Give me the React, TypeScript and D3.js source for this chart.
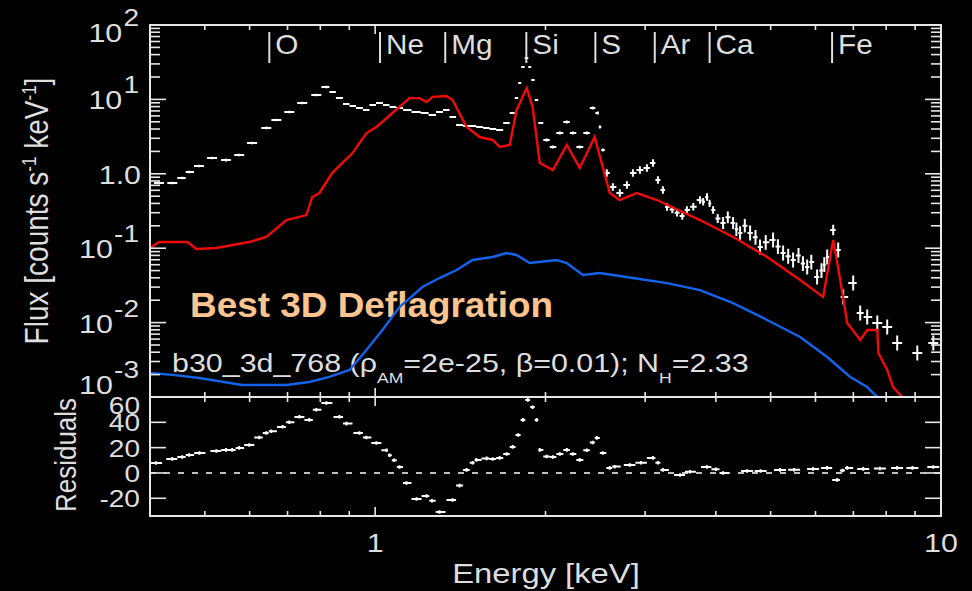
import React from 'react';
import * as d3 from 'd3';

// ---------- data ----------
const dataE = [0.415,0.438,0.456,0.469,0.488,0.515,0.545,0.575,0.606,0.642,0.669,0.705,0.743,0.787,0.820,
  0.840,0.865,0.890,0.912,0.938,0.965,0.989,1.018,1.047,1.073,1.104,1.136,1.183,1.223,1.263,1.299,1.337,1.370,1.410,1.451,1.487,1.530,1.574,1.613,1.660,1.708,1.750,1.779,1.801,1.823,1.853,1.876,1.898,1.930,1.954,
  2.010,2.060,2.120,2.181,2.235,2.299,2.366,2.425,2.475,2.495,2.525,
  2.567,2.630,2.706,2.785,2.854,2.937,3.022,3.097,3.160,3.225,3.279,3.35,3.415,3.49,3.556,3.65,3.750,3.80,3.859,3.90,3.955,4.03,
  4.120,4.20,4.291,4.35,4.415,4.50,4.599,4.70,4.788,4.90,5.049,5.15,5.259,5.37,5.479,5.60,5.70,5.801,5.90,6.040,6.15,6.22,
  6.293,6.449,6.581,6.717,6.997,7.198,7.406,7.717,8.035,8.368,9.081,9.692];
const dataF = [0.752,0.752,0.878,1.057,1.273,1.631,1.532,1.789,2.594,4.128,5.286,6.769,8.946,11.46,14.68,
  12.58,10.44,8.674,8.153,7.661,7.203,8.409,8.946,8.409,7.904,7.661,7.203,6.769,6.565,6.171,6.769,7.203,5.799,4.530,4.390,4.390,4.256,4.128,4.001,3.879,4.818,6.565,10.44,16.61,27.26,36.02,27.26,18.23,9.815,4.818,
  2.846,2.292,3.535,4.968,3.535,2.292,3.535,7.661,6.565,4.256,2.089,
  1.025,0.665,0.552,0.707,1.025,1.125,1.197,1.397,0.825,0.606,0.358,0.33,0.30,0.27,0.326,0.36,0.444,0.42,0.488,0.40,0.326,0.25,
  0.218,0.26,0.218,0.18,0.160,0.20,0.160,0.14,0.1038,0.12,0.129,0.105,0.0862,0.078,0.0694,0.08,0.062,0.0559,0.065,0.0410,0.05,0.06,
  0.0762,0.1757,0.0946,0.0221,0.0340,0.01346,0.01189,0.00988,0.00873,0.00532,0.00390,0.00532];
const dataErr = [0.018,0.018,0.018,0.018,0.018,0.018,0.018,0.018,0.018,0.018,0.018,0.018,0.018,0.018,0.018,
  0.015,0.015,0.015,0.015,0.015,0.015,0.015,0.015,0.015,0.015,0.015,0.015,0.015,0.015,0.015,0.015,0.015,0.015,0.015,0.015,0.015,0.015,0.015,0.015,0.015,0.015,0.015,0.015,0.015,0.015,0.015,0.015,0.015,0.015,0.015,
  0.02,0.02,0.02,0.02,0.02,0.02,0.02,0.02,0.02,0.02,0.02,
  0.05,0.05,0.05,0.05,0.05,0.05,0.05,0.05,0.05,0.05,0.05,0.05,0.05,0.05,0.05,0.05,0.05,0.05,0.05,0.05,0.05,0.06,
  0.08,0.08,0.08,0.09,0.09,0.09,0.1,0.1,0.1,0.1,0.1,0.1,0.1,0.1,0.1,0.1,0.1,0.1,0.1,0.1,0.1,0.1,
  0.1,0.07,0.1,0.1,0.1,0.1,0.1,0.1,0.1,0.1,0.1,0.1];

const redE = [0.4,0.415,0.466,0.483,0.524,0.599,0.642,0.697,0.756,0.774,0.797,0.840,0.912,0.965,1.005,1.073,1.150,1.197,1.233,1.263,1.337,1.370,1.451,1.530,1.613,1.660,1.729,1.778,1.853,1.898,1.954,2.061,2.181,2.299,2.443,2.525,2.598,2.706,2.901,3.147,3.75,4.291,4.928,5.636,6.19,6.37,6.449,6.636,6.827,7.198,7.406,7.716,7.75,8.035,8.229,8.537];
const redF = [0.1006,0.121,0.121,0.0976,0.1006,0.121,0.1415,0.239,0.279,0.488,0.552,1.03,1.90,3.53,4.26,6.57,10.4,10.4,9.2,10.8,11.1,9.8,4.26,3.12,2.85,2.29,2.44,7.2,14.2,7.9,1.40,1.12,2.44,1.20,3.12,1.23,0.552,0.444,0.552,0.444,0.239,0.1415,0.0762,0.0374,0.0221,0.0762,0.129,0.0374,0.00988,0.00583,0.00796,0.00796,0.0039,0.00231,0.00136,0.001];

const blueE = [0.4,0.438,0.489,0.582,0.697,0.765,0.830,0.901,0.965,1.030,1.104,1.212,1.299,1.393,1.486,1.613,1.708,1.778,1.875,2.094,2.181,2.328,2.494,2.854,3.28,3.75,4.291,4.928,5.636,6.292,6.911,7.406,7.653,7.73];
const blueF = [0.0021,0.00198,0.0018,0.00145,0.00145,0.00159,0.00186,0.00231,0.00428,0.00796,0.0162,0.0301,0.0397,0.0509,0.0694,0.0762,0.0861,0.081,0.0632,0.0694,0.0632,0.0436,0.0464,0.0397,0.0340,0.0274,0.0183,0.01084,0.0064,0.00345,0.00186,0.00136,0.00106,0.001];

const resE = [0.41,0.438,0.456,0.469,0.489,0.524,0.545,0.559,0.575,0.599,0.624,0.642,0.655,0.686,0.705,0.735,0.765,0.787,0.820,0.865,0.89,0.938,0.965,1.005,1.047,1.06,1.08,1.104,1.136,1.183,1.233,1.26,1.299,1.370,1.41,1.451,1.487,1.510,1.574,1.613,1.660,1.708,1.750,1.79,1.824,1.861,1.898,1.930,1.954,2.010,2.061,2.12,2.181,2.235,2.299,2.366,2.425,2.464,2.525,2.598,2.65,2.818,2.95,3.096,3.16,3.225,3.458,3.6,3.859,4.0,4.120,4.543,4.8,5.195,5.5,5.943,6.292,6.555,6.7,6.827,7.286,7.8,8.365,8.9,9.69];
const resV = [7.9,11.1,12.6,14.2,15.8,17.4,18.2,18.2,19.8,22.1,28,31.6,33,36.4,40,44.3,41.9,50,55.3,44.3,39,31.6,28,23.7,18,14,10,4.7,-7.9,-20.6,-18.2,-22,-30.8,-21.3,-10,2.4,8,10.3,11.5,11,11.9,15,20.6,30,41.9,57.7,52,41.9,18.2,13,12.6,15,18.2,15,10.3,18,24,27.7,15.8,4.0,5,6.3,8,11.9,8,2.4,-1.6,1,4.7,3,0,1.6,1.5,2.4,2.5,3.2,4.0,-5.5,2,4.0,3.2,3.5,4.0,4,4.7];

const lineE = [0.65,1.02,1.33,1.85,2.45,3.12,3.9,6.42];
const lineNames = ['O','Ne','Mg','Si','S','Ar','Ca','Fe'];

const xMinorTicks = [0.5,0.6,0.7,0.8,0.9,2,3,4,5,6,7,8,9];
const xMajorTicks = [1,10];
const xTickLabels = ['1','10'];
const yMajorExp = [2,1,0,-1,-2,-3];
const resTicks = [60,40,20,0,-20];

const FONT = '"Liberation Sans", Arial, Helvetica, sans-serif';
const TXT = '#dedede';
const AX = '#e6e6e6';
const SX = 1.17;

function crossPath(E: number[], xs: (v:number)=>number, ylo: (i:number)=>number, yhi: (i:number)=>number, yc: (i:number)=>number, cap: number) {
  let d = '';
  for (let i = 0; i < E.length; i++) {
    const xc = xs(E[i]);
    const gl = i > 0 ? (xc - xs(E[i-1])) / 2 : (xs(E[1]) - xc) / 2;
    const gr = i < E.length - 1 ? (xs(E[i+1]) - xc) / 2 : (xc - xs(E[i-1])) / 2;
    const hl = Math.min(gl, cap);
    const hr = Math.min(gr, cap);
    const y = yc(i);
    d += `M${(xc - hl).toFixed(1)},${y.toFixed(1)}H${(xc + hr).toFixed(1)}M${xc.toFixed(1)},${ylo(i).toFixed(1)}V${yhi(i).toFixed(1)}`;
  }
  return d;
}

function T(props: any) {
  const { x, y, fs, anchor = 'start', sx = SX, rot = false, fill = TXT, weight = 'normal', children } = props;
  return (
    <g transform={`translate(${x},${y}) scale(${sx},1)${rot ? ' rotate(-90)' : ''}`}>
      <text fontFamily={FONT} fontSize={fs} textAnchor={anchor} fill={fill} fontWeight={weight}>{children}</text>
    </g>
  );
}

export default function App() {
  const L = 150, R = 941, T0 = 25, B0 = 397, B1 = 516;
  const x = d3.scaleLog().domain([0.4, 10]).range([L, R]);
  const yT = d3.scaleLog().domain([1e-3, 1e2]).range([B0, T0]);
  const yR = d3.scaleLinear().domain([-34, 60]).range([B1, B0]);

  const lineTop = d3.line<[number, number]>().x(d => x(d[0])).y(d => yT(d[1]));
  const redPath = lineTop(redE.map((e, i) => [e, redF[i]]));
  const bluePath = lineTop(blueE.map((e, i) => [e, blueF[i]]));

  const err = (i: number) => Math.pow(10, dataErr[i] ?? 0.05);
  const dataPath = crossPath(dataE, x,
    i => yT(dataF[i] * err(i)), i => yT(dataF[i] / err(i)), i => yT(dataF[i]), 5);
  const resPath = crossPath(resE, x,
    i => yR(resV[i] + 1.4), i => yR(resV[i] - 1.4), i => yR(resV[i]), 6);

  const yTicks = yT.ticks();
  const tickLines: any[] = [];
  yTicks.forEach((t, i) => {
    const lg = Math.log10(t);
    const major = Math.abs(lg - Math.round(lg)) < 1e-6;
    const len = major ? 16 : 10;
    const yy = yT(t);
    if (yy < T0 - 0.5 || yy > B0 + 0.5) return;
    tickLines.push(<line key={'yl' + i} x1={L} x2={L + len} y1={yy} y2={yy} />);
    tickLines.push(<line key={'yr' + i} x1={R} x2={R - len} y1={yy} y2={yy} />);
  });
  const edges: [number, number][] = [[T0, 1], [B0, -1], [B0, 1], [B1, -1]];
  edges.forEach(([ey, dir], k) => {
    xMinorTicks.forEach((t, i) => {
      tickLines.push(<line key={`xm${k}-${i}`} x1={x(t)} x2={x(t)} y1={ey} y2={ey + dir * 5} />);
    });
    tickLines.push(<line key={`xM${k}`} x1={x(1)} x2={x(1)} y1={ey} y2={ey + dir * 9} />);
  });
  resTicks.forEach((t, i) => {
    if (t === 60) return;
    tickLines.push(<line key={'rl' + i} x1={L} x2={L + 16} y1={yR(t)} y2={yR(t)} />);
    tickLines.push(<line key={'rr' + i} x1={R} x2={R - 16} y1={yR(t)} y2={yR(t)} />);
  });

  return (
    <svg width={972} height={591} style={{ position: 'absolute', left: 0, top: 0, background: '#000' }}>
      <rect x={0} y={0} width={972} height={591} fill="#000" />
      <defs>
        <clipPath id="topclip"><rect x={L} y={T0} width={R - L} height={B0 - T0} /></clipPath>
        <clipPath id="resclip"><rect x={L} y={B0} width={R - L} height={B1 - B0} /></clipPath>
      </defs>

      {lineE.map((e, i) => (
        <g key={'el' + i}>
          <line x1={x(e)} x2={x(e)} y1={32} y2={63} stroke={TXT} strokeWidth={2} />
          <T x={x(e) + 6} y={54} fs={27} sx={1.1}>{lineNames[i]}</T>
        </g>
      ))}

      <text x={190} y={317} fontFamily={FONT} fontSize={35} fontWeight="bold" fill="#FCC48E"
        textLength={363} lengthAdjust="spacingAndGlyphs">Best 3D Deflagration</text>
      <T x={172} y={372} fs={26}>
        <tspan>b30_3d_768 (ρ</tspan>
        <tspan dy={11} fontSize={15}>AM</tspan>
        <tspan dy={-11}>=2e-25, β=0.01); N</tspan>
        <tspan dy={11} fontSize={15}>H</tspan>
        <tspan dy={-11}>=2.33</tspan>
      </T>

      <g clipPath="url(#topclip)">
        <path d={bluePath || ''} fill="none" stroke="#1463EB" strokeWidth={2.4} />
        <path d={dataPath} fill="none" stroke="#ffffff" strokeWidth={2} />
        <path d={redPath || ''} fill="none" stroke="#F00A0A" strokeWidth={2.4} />
      </g>
      <g clipPath="url(#resclip)">
        <line x1={L} x2={R} y1={yR(0)} y2={yR(0)} stroke="#ffffff" strokeWidth={1.6} strokeDasharray="6 8" />
        <path d={resPath} fill="none" stroke="#ffffff" strokeWidth={2} />
      </g>

      <g stroke={AX} strokeWidth={1.6}>{tickLines}</g>
      <rect x={L} y={T0} width={R - L} height={B0 - T0} fill="none" stroke={AX} strokeWidth={2} />
      <rect x={L} y={B0} width={R - L} height={B1 - B0} fill="none" stroke={AX} strokeWidth={2} />

      {yMajorExp.map(k => {
        const yy = yT(Math.pow(10, k));
        const base = k === 2 ? 42 : k === -3 ? 394 : yy + 10;
        if (k === 0) return <T key={'yt' + k} x={141} y={base} fs={26} anchor="end">1.0</T>;
        return (
          <T key={'yt' + k} x={139} y={base} fs={26} anchor="end">
            <tspan>10</tspan><tspan dy={-16} dx={1} fontSize={24}>{String(k)}</tspan>
          </T>
        );
      })}
      {resTicks.map(t => (
        <T key={'rt' + t} x={140} y={t === 60 ? 414 : yR(t) + 9} fs={24} anchor="end">{String(t)}</T>
      ))}
      {xMajorTicks.map((t, i) => (
        <T key={'xt' + t} x={x(t)} y={552} fs={26} anchor="middle">{xTickLabels[i]}</T>
      ))}
      <T x={546} y={583} fs={28} anchor="middle">Energy [keV]</T>
      <T x={48} y={211} fs={28} anchor="middle" rot>
        <tspan>Flux [counts s</tspan><tspan dy={-10} fontSize={17}>-1</tspan><tspan dy={10}> keV</tspan><tspan dy={-10} fontSize={17}>-1</tspan><tspan dy={10}>]</tspan>
      </T>
      <T x={76} y={455} fs={26} anchor="middle" rot>Residuals</T>
    </svg>
  );
}
